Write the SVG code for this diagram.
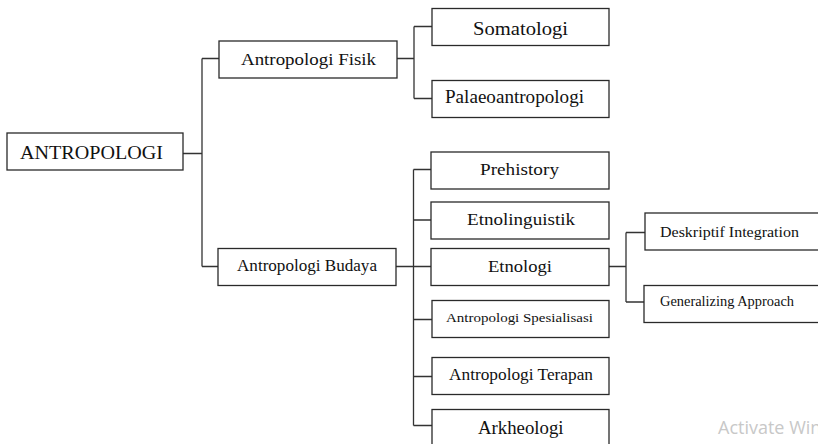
<svg xmlns="http://www.w3.org/2000/svg" width="818" height="444" viewBox="0 0 818 444">
<style>
  .box { fill: #ffffff; stroke: #2a2a2a; stroke-width: 1.3; }
  .lbl { font-family: "Liberation Serif", "Times New Roman", serif; fill: #111111; }
  .con { fill: none; stroke: #333333; stroke-width: 1.3; }
  .wm { font-family: "Open Sans", "Noto Sans", sans-serif; fill: #c8c8c8; font-size: 18px; }
</style>
<rect width="818" height="444" fill="#ffffff"/>
<g id="connectors">
  <path class="con" d="M183 153.5 H202 M202 58.5 V266.5 M202 58.5 H219 M202 266.5 H218"/>
  <path class="con" d="M397 58.5 H414 M414 26.5 V98.5 M414 26.5 H432 M414 98.5 H432"/>
  <path class="con" d="M396 266.5 H431 M413.5 169.5 V425.5 M413.5 169.5 H431 M413.5 220 H431 M413.5 319.5 H432 M413.5 376.5 H432 M413.5 425.5 H432"/>
  <path class="con" d="M609 266.5 H626 M626 232.5 V302 M626 232.5 H645 M626 302 H645"/>
</g>
<g id="antropologi">
  <rect class="box" x="7" y="133" width="176" height="37"/>
  <text class="lbl" x="20" y="158.5" font-size="19.5" textLength="143" lengthAdjust="spacingAndGlyphs">ANTROPOLOGI</text>
</g>
<g id="antropologi-fisik">
  <rect class="box" x="219" y="41" width="178" height="37"/>
  <text class="lbl" x="241" y="64.5" font-size="17" textLength="135" lengthAdjust="spacingAndGlyphs">Antropologi Fisik</text>
</g>
<g id="antropologi-budaya">
  <rect class="box" x="218" y="248.5" width="178" height="37"/>
  <text class="lbl" x="237" y="270.5" font-size="16" textLength="140" lengthAdjust="spacingAndGlyphs">Antropologi Budaya</text>
</g>
<g id="somatologi">
  <rect class="box" x="432" y="8.5" width="177" height="37"/>
  <text class="lbl" x="473" y="34.5" font-size="19" textLength="95" lengthAdjust="spacingAndGlyphs">Somatologi</text>
</g>
<g id="palaeoantropologi">
  <rect class="box" x="432" y="80.5" width="177" height="37"/>
  <text class="lbl" x="445" y="103" font-size="18" textLength="139" lengthAdjust="spacingAndGlyphs">Palaeoantropologi</text>
</g>
<g id="prehistory">
  <rect class="box" x="431" y="152" width="178" height="37"/>
  <text class="lbl" x="480" y="175" font-size="16.5" textLength="79" lengthAdjust="spacingAndGlyphs">Prehistory</text>
</g>
<g id="etnolinguistik">
  <rect class="box" x="431" y="202" width="178" height="37"/>
  <text class="lbl" x="467" y="225" font-size="17" textLength="108" lengthAdjust="spacingAndGlyphs">Etnolinguistik</text>
</g>
<g id="etnologi">
  <rect class="box" x="431" y="248.5" width="178" height="37"/>
  <text class="lbl" x="488" y="271.5" font-size="17" textLength="64" lengthAdjust="spacingAndGlyphs">Etnologi</text>
</g>
<g id="antropologi-spesialisasi">
  <rect class="box" x="432" y="300.5" width="177" height="37"/>
  <text class="lbl" x="446" y="322" font-size="13.5" textLength="147" lengthAdjust="spacingAndGlyphs">Antropologi Spesialisasi</text>
</g>
<g id="antropologi-terapan">
  <rect class="box" x="432" y="357.5" width="177" height="37"/>
  <text class="lbl" x="449" y="380" font-size="16" textLength="144" lengthAdjust="spacingAndGlyphs">Antropologi Terapan</text>
</g>
<g id="arkheologi">
  <rect class="box" x="432" y="409.5" width="177" height="40"/>
  <text class="lbl" x="478" y="433.5" font-size="19" textLength="85.5" lengthAdjust="spacingAndGlyphs">Arkheologi</text>
</g>
<g id="deskriptif-integration">
  <rect class="box" x="645" y="213" width="180" height="37"/>
  <text class="lbl" x="660" y="236.5" font-size="15" textLength="139" lengthAdjust="spacingAndGlyphs">Deskriptif Integration</text>
</g>
<g id="generalizing-approach">
  <rect class="box" x="644" y="285.5" width="180" height="37"/>
  <text class="lbl" x="660" y="305.5" font-size="14" textLength="134" lengthAdjust="spacingAndGlyphs">Generalizing Approach</text>
</g>
<text class="wm" x="718" y="434">Activate Windows</text>
</svg>
